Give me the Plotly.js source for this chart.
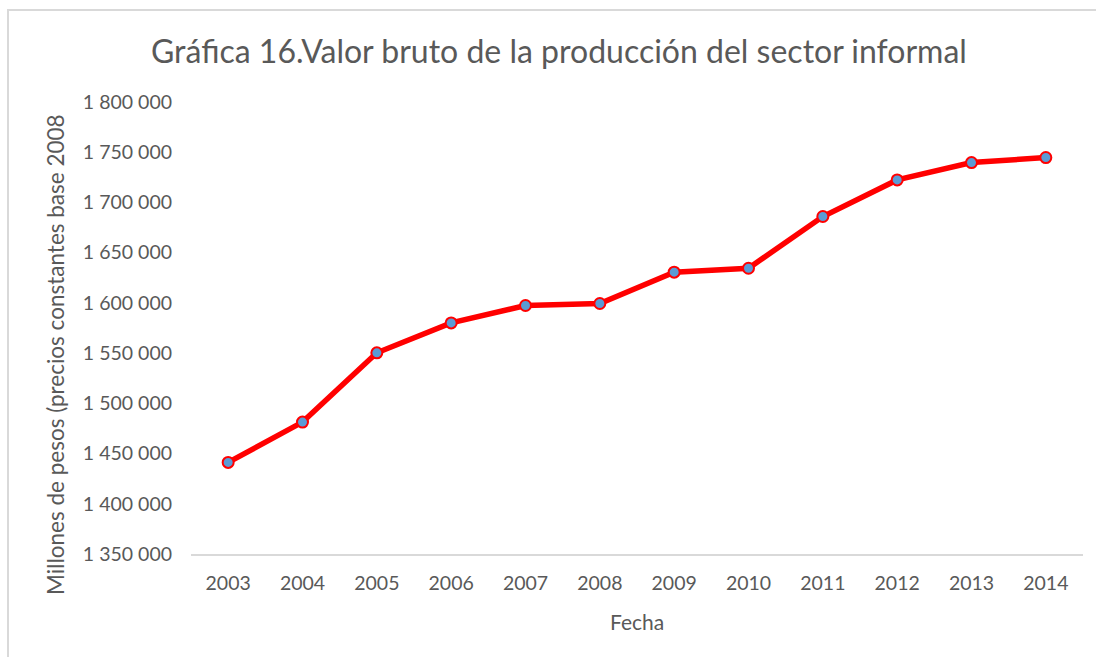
<!DOCTYPE html>
<html>
<head>
<meta charset="utf-8">
<script src="https://cdn.plot.ly/plotly-3.0.1.min.js"></script>
<style>
  html, body { margin: 0; padding: 0; overflow: hidden; background: #ffffff; }
  #chart { position: absolute; left: 0; top: 0; width: 1096px; height: 657px; }
  #frame { position: absolute; left: 7px; top: 9px; width: 1200px; height: 800px;
           border: 2px solid #d9d9d9; pointer-events: none; }
</style>
</head>
<body>
<div id="chart"></div>
<div id="frame"></div>
<script>
// Data
const years = ["2003","2004","2005","2006","2007","2008","2009","2010","2011","2012","2013","2014"];
const valorBruto = [1441200, 1481300, 1550300, 1580100, 1597400, 1599400, 1630600, 1634500, 1686000, 1722400, 1739700, 1744700];
const yTickValues = [1350000, 1400000, 1450000, 1500000, 1550000, 1600000, 1650000, 1700000, 1750000, 1800000];
const yTickLabels = ["1 350 000","1 400 000","1 450 000","1 500 000","1 550 000","1 600 000","1 650 000","1 700 000","1 750 000","1 800 000"];

const chartTitle = "Gráfica 16.Valor bruto de la producción del sector informal";
const yTitle = "Millones de pesos (precios constantes base 2008";
const xTitle = "Fecha";

const fontFam = "Lato, 'Open Sans', sans-serif";
const textGray = "#595959";

const trace = {
  x: years,
  y: valorBruto,
  type: "scatter",
  mode: "lines+markers",
  line: { color: "#FF0000", width: 5.5 },
  marker: { color: "#5B9BD5", size: 11, line: { color: "#FF0000", width: 2 } },
  hoverinfo: "x+y"
};

const layout = {
  width: 1096,
  height: 657,
  paper_bgcolor: "rgba(0,0,0,0)",
  plot_bgcolor: "rgba(0,0,0,0)",
  margin: { l: 191, r: 13, t: 102, b: 103 },
  showlegend: false,
  font: { family: fontFam, color: textGray },
  xaxis: {
    type: "category",
    range: [-0.5, 11.5],
    showgrid: false,
    zeroline: false,
    showline: true,
    linecolor: "#d9d9d9",
    linewidth: 1.5,
    ticks: "",
    ticklabelstandoff: 11,
    tickfont: { family: fontFam, size: 19.5, color: textGray }
  },
  yaxis: {
    range: [1350000, 1800000],
    tickvals: yTickValues,
    ticktext: yTickLabels,
    showgrid: false,
    zeroline: false,
    showline: false,
    ticks: "",
    ticklabelstandoff: 18,
    tickfont: { family: fontFam, size: 19.5, color: textGray }
  },
  annotations: [
    {
      text: chartTitle,
      xref: "paper", yref: "paper",
      x: (559 - 191) / 892, y: (554 - 50) / 452,
      xanchor: "center", yanchor: "middle",
      showarrow: false,
      font: { family: fontFam, size: 32, color: textGray }
    },
    {
      text: yTitle,
      xref: "paper", yref: "paper",
      x: (55 - 191) / 892, y: (554 - 355) / 452,
      xanchor: "center", yanchor: "middle",
      textangle: -90,
      showarrow: false,
      font: { family: fontFam, size: 22.5, color: textGray }
    },
    {
      text: xTitle,
      xref: "paper", yref: "paper",
      x: (637 - 191) / 892, y: (554 - 621) / 452,
      xanchor: "center", yanchor: "middle",
      showarrow: false,
      font: { family: fontFam, size: 21, color: textGray }
    }
  ]
};

Plotly.newPlot("chart", [trace], layout, { displayModeBar: false, staticPlot: false });
</script>
</body>
</html>
